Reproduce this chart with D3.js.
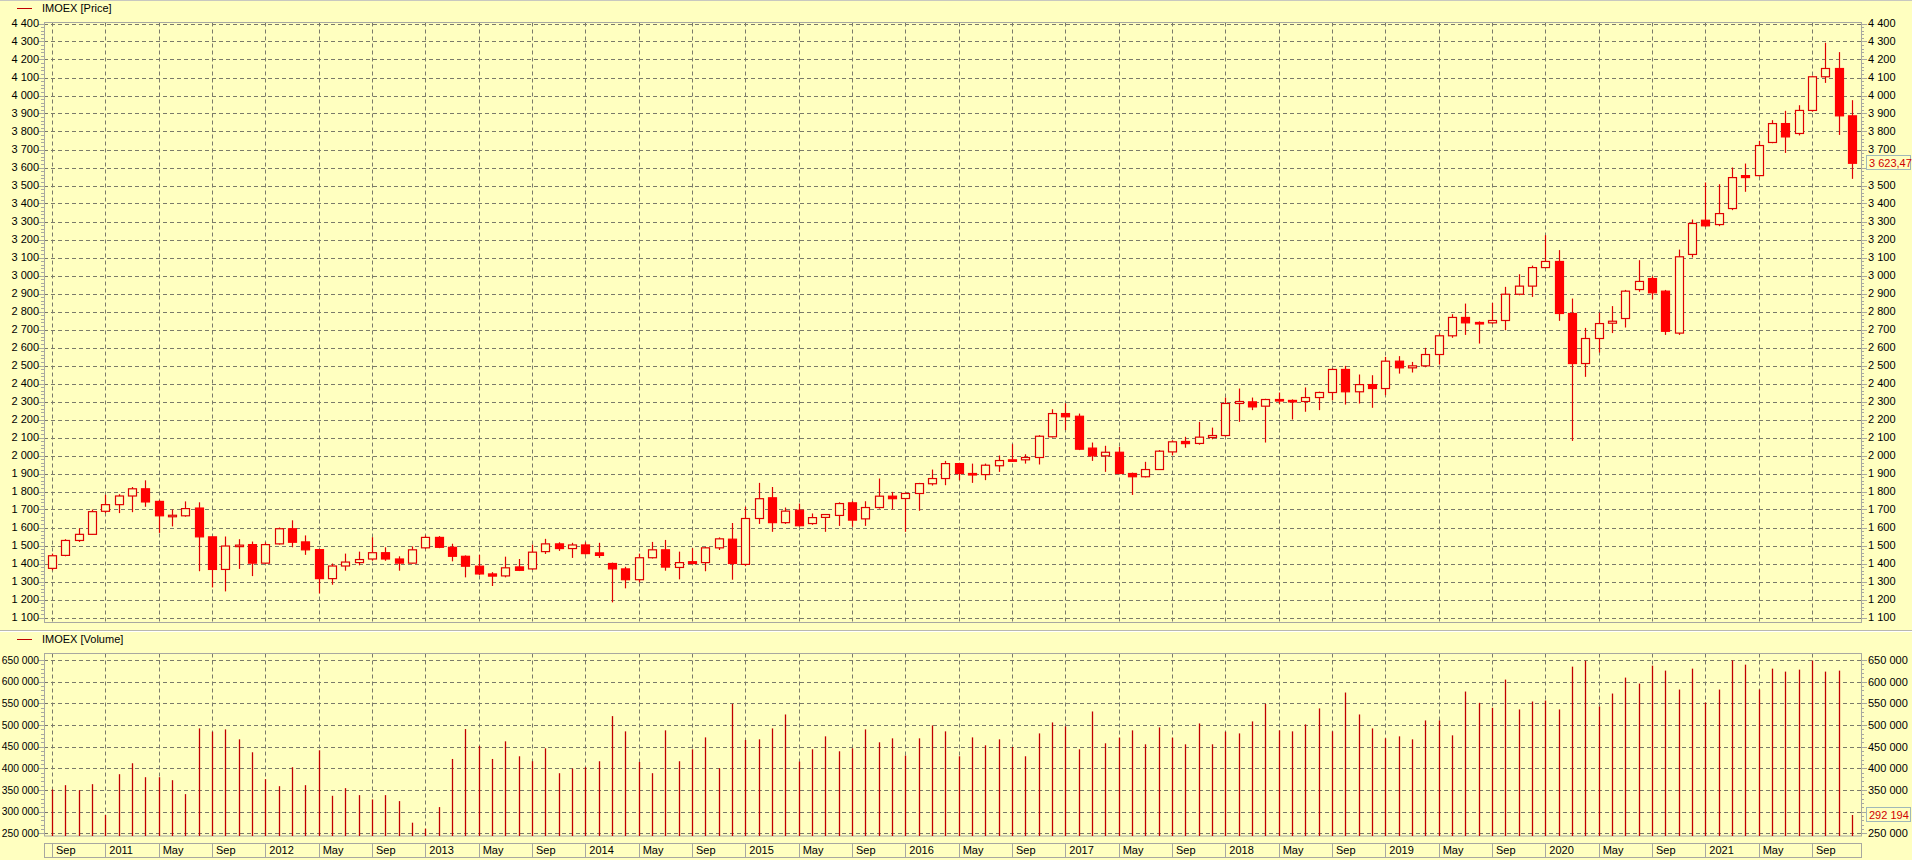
<!DOCTYPE html>
<html><head><meta charset="utf-8">
<script src="https://cdn.jsdelivr.net/npm/d3@7/dist/d3.min.js"></script>
<style>
html,body{margin:0;padding:0;background:#FFFFC0;overflow:hidden}
svg{display:block}
text{font-family:"Liberation Sans",Arial,sans-serif;font-size:11px;fill:#000}
</style></head><body>
<svg id="c" width="1912" height="860"></svg>
<script>
const months = ["2010-09","2010-10","2010-11","2010-12",
"2011-01","2011-02","2011-03","2011-04","2011-05","2011-06","2011-07","2011-08","2011-09","2011-10","2011-11","2011-12",
"2012-01","2012-02","2012-03","2012-04","2012-05","2012-06","2012-07","2012-08","2012-09","2012-10","2012-11","2012-12",
"2013-01","2013-02","2013-03","2013-04","2013-05","2013-06","2013-07","2013-08","2013-09","2013-10","2013-11","2013-12",
"2014-01","2014-02","2014-03","2014-04","2014-05","2014-06","2014-07","2014-08","2014-09","2014-10","2014-11","2014-12",
"2015-01","2015-02","2015-03","2015-04","2015-05","2015-06","2015-07","2015-08","2015-09","2015-10","2015-11","2015-12",
"2016-01","2016-02","2016-03","2016-04","2016-05","2016-06","2016-07","2016-08","2016-09","2016-10","2016-11","2016-12",
"2017-01","2017-02","2017-03","2017-04","2017-05","2017-06","2017-07","2017-08","2017-09","2017-10","2017-11","2017-12",
"2018-01","2018-02","2018-03","2018-04","2018-05","2018-06","2018-07","2018-08","2018-09","2018-10","2018-11","2018-12",
"2019-01","2019-02","2019-03","2019-04","2019-05","2019-06","2019-07","2019-08","2019-09","2019-10","2019-11","2019-12",
"2020-01","2020-02","2020-03","2020-04","2020-05","2020-06","2020-07","2020-08","2020-09","2020-10","2020-11","2020-12",
"2021-01","2021-02","2021-03","2021-04","2021-05","2021-06","2021-07","2021-08","2021-09","2021-10","2021-11","2021-12"];

const openP = [1373,1445,1528,1562,
1690,1727,1775,1815,1745,1665,1665,1708,1548,1367,1498,1505,
1402,1509,1593,1520,1477,1316,1386,1405,1425,1460,1425,1402,
1487,1545,1490,1440,1385,1342,1331,1381,1370,1466,1509,1483,
1503,1459,1400,1370,1310,1432,1476,1378,1410,1405,1487,1535,
1395,1650,1765,1627,1696,1622,1656,1667,1737,1648,1711,1774,
1761,1789,1843,1872,1955,1900,1894,1943,1976,1976,1989,2104,
2233,2218,2041,1998,2018,1900,1882,1922,2020,2078,2067,2100,
2111,2289,2298,2274,2311,2306,2300,2322,2350,2478,2354,2394,
2372,2524,2487,2498,2561,2665,2767,2739,2737,2750,2896,2941,
3044,3078,2789,2511,2650,2735,2761,2922,2983,2913,2680,3117,
3307,3283,3372,3555,3555,3739,3844,3789,3917,4104,4150,3887];

const highP = [1455,1535,1595,1700,
1782,1785,1825,1862,1752,1700,1745,1740,1550,1550,1535,1522,
1518,1600,1640,1556,1480,1400,1455,1466,1546,1490,1440,1495,
1556,1552,1510,1445,1448,1352,1438,1425,1505,1537,1518,1515,
1518,1515,1405,1382,1455,1520,1531,1466,1485,1492,1545,1625,
1715,1848,1825,1711,1733,1678,1675,1740,1746,1746,1872,1798,
1795,1848,1922,1970,1960,1955,1955,2000,2063,2007,2113,2257,
2290,2233,2072,2054,2048,1905,1965,2030,2085,2104,2187,2155,
2322,2372,2322,2315,2350,2312,2378,2355,2483,2498,2450,2446,
2548,2552,2520,2598,2678,2785,2844,2745,2848,2937,3007,3055,
3224,3141,2872,2709,2794,2830,2920,3085,2996,2920,3144,3311,
3517,3507,3600,3622,3748,3863,3915,3946,4110,4293,4241,3974];

const lowP = [1362,1440,1520,1560,
1680,1680,1685,1715,1570,1606,1660,1357,1267,1245,1370,1330,
1398,1505,1490,1448,1234,1282,1360,1390,1415,1415,1360,1400,
1480,1485,1412,1323,1335,1275,1323,1358,1365,1453,1470,1431,
1450,1431,1184,1262,1295,1428,1360,1312,1395,1357,1475,1310,
1385,1620,1576,1620,1605,1615,1576,1609,1604,1609,1705,1700,
1576,1693,1833,1835,1863,1848,1863,1909,1965,1955,1950,2100,
2141,2030,1970,1909,1900,1781,1878,1920,2000,2043,2060,2090,
2105,2187,2252,2072,2285,2200,2243,2252,2307,2283,2289,2265,
2335,2455,2461,2490,2505,2654,2670,2622,2730,2696,2890,2881,
3040,2748,2081,2437,2572,2680,2711,2910,2867,2670,2670,3100,
3270,3274,3363,3465,3550,3735,3681,3778,3910,4070,3781,3537];

const closeP = [1443,1528,1562,1688,
1727,1775,1815,1742,1665,1668,1705,1548,1367,1497,1502,1402,
1505,1593,1518,1476,1316,1386,1408,1422,1460,1425,1402,1476,
1545,1490,1440,1385,1342,1330,1376,1362,1463,1509,1483,1503,
1455,1445,1370,1310,1432,1476,1380,1405,1400,1487,1537,1400,
1650,1760,1627,1691,1610,1655,1672,1733,1641,1711,1774,1760,
1789,1844,1872,1955,1900,1895,1946,1972,1972,1989,2107,2233,
2215,2035,1998,2018,1900,1882,1922,2024,2076,2066,2102,2111,
2289,2300,2270,2311,2304,2300,2322,2350,2478,2354,2394,2372,
2524,2487,2498,2561,2665,2767,2737,2737,2750,2896,2941,3044,
3078,2789,2511,2650,2733,2746,2913,2967,2904,2690,3104,3289,
3276,3344,3544,3544,3722,3844,3770,3917,4104,4150,3887,3623.47];

const volume = [351100,361100,349600,363400,
292200,386400,411700,379500,379500,372600,340400,492100,484500,489800,466900,437000,
375000,358800,402500,361100,441600,336600,354200,338100,328200,338100,324300,274500,
260700,310500,421600,490600,451500,421600,462300,427800,416300,446200,388700,399400,
402500,416300,520500,485300,414700,388700,487600,416300,443900,471400,400200,548800,
465300,466900,492100,524300,415500,443900,473800,439300,446200,489800,460000,469200,
429400,469200,499000,485300,427800,471400,453100,466900,449200,427800,480600,505900,
496700,443900,531200,457700,470700,487600,455400,494400,470700,455400,503600,455400,
484500,480600,508300,548800,487600,485300,501400,538200,485300,574900,524300,492100,
469200,473800,466900,510500,510500,476100,577200,551200,539700,604800,535900,554200,
556500,535900,634700,648500,542700,572600,609400,595600,637000,625500,581800,630100,
551900,581800,649200,639300,581800,630100,623200,627800,648500,623200,625500,292194];

const priceTicks = [1100,1200,1300,1400,1500,1600,1700,1800,1900,2000,2100,2200,2300,2400,2500,2600,2700,2800,2900,3000,3100,3200,3300,3400,3500,3600,3700,3800,3900,4000,4100,4200,4300,4400];
const volumeTicks = [250000,300000,350000,400000,450000,500000,550000,600000,650000];
const monthAbbr = {"01":"Jan","05":"May","09":"Sep"};
const priceTitle = "IMOEX [Price]";
const volumeTitle = "IMOEX [Volume]";

const bg = "#FFFFC0", grid = "#7a7a6a", frame = "#a8a8a0";
const svg = d3.select("#c");
svg.append("rect").attr("width",1912).attr("height",860).attr("fill",bg);

const L = 44, R = 1861;
const pTop = 22.5, pBot = 622.5;
const vTop = 653.5, vBot = 836;

const x = d3.scalePoint().domain(months).range([52, 1852]);
const yP = d3.scaleLinear().domain([1100, 4400]).range([617.5, 23.5]);
const yV = d3.scaleLinear().domain([250000, 650000]).range([833.3, 660]);
const fmt = d3.formatLocale({decimal:",", thousands:" ", grouping:[3], currency:["",""]});
const fInt = fmt.format(",d");
const fDec = fmt.format(",.2f");

const gridMonths = months.filter((m,i)=> i % 4 === 0);
const data = months.map((m,i)=>({m, o:openP[i], h:highP[i], l:lowP[i], c:closeP[i], v:volume[i]}));
const last = data[data.length-1];

svg.append("line").attr("x1",0).attr("x2",1912).attr("y1",0.5).attr("y2",0.5).attr("stroke","#c8c8c0");

function legend(y, label){
  svg.append("line").attr("x1",17).attr("x2",32).attr("y1",y).attr("y2",y).attr("stroke","#c00000").attr("stroke-width",1);
  svg.append("text").attr("x",42).attr("y",y).attr("dy","0.35em").text(label);
}
legend(8.5, priceTitle);
legend(639.5, volumeTitle);

function panel(top, bot, yScale, ticks, tickFmt, sub, lastY, leftSize){
  const g = svg.append("g");
  const py = d=>Math.round(yScale(d))+0.5;
  g.selectAll("line.h").data(ticks).join("line")
    .attr("x1",L).attr("x2",R).attr("y1",py).attr("y2",py)
    .attr("stroke",grid).attr("stroke-dasharray","4,3");
  g.selectAll("line.v").data(gridMonths).join("line")
    .attr("x1",d=>Math.round(x(d))+0.5).attr("x2",d=>Math.round(x(d))+0.5).attr("y1",top).attr("y2",bot)
    .attr("stroke",grid).attr("stroke-dasharray","4,3");
  g.append("rect").attr("x",L+0.5).attr("y",top).attr("width",R-L).attr("height",bot-top)
    .attr("fill","none").attr("stroke",frame);
  const step = ticks[1]-ticks[0];
  const minor = [];
  for (let k=0;k<ticks.length-1;k++) for (let s=1;s<sub;s++) minor.push(ticks[k]+step*s/sub);
  g.selectAll("line.ml").data(minor).join("line")
    .attr("x1",L-3).attr("x2",L).attr("y1",py).attr("y2",py).attr("stroke",frame);
  g.selectAll("line.mr").data(minor).join("line")
    .attr("x1",R).attr("x2",R+3).attr("y1",py).attr("y2",py).attr("stroke",frame);
  g.selectAll("line.tl").data(ticks).join("line")
    .attr("x1",L-6).attr("x2",L).attr("y1",py).attr("y2",py).attr("stroke",frame);
  g.selectAll("line.tr").data(ticks).join("line")
    .attr("x1",R).attr("x2",R+6).attr("y1",py).attr("y2",py).attr("stroke",frame);
  g.selectAll("text.l").data(ticks).join("text")
    .attr("x",L-5).attr("y",d=>yScale(d)).attr("dy","0.35em").attr("text-anchor","end")
    .style("font-size",leftSize+"px").text(tickFmt);
  g.selectAll("text.r").data(ticks.filter(t=>Math.abs(yScale(t)-lastY)>12)).join("text")
    .attr("x",R+7).attr("y",d=>yScale(d)).attr("dy","0.35em").text(tickFmt);
}
panel(pTop, pBot, yP, priceTicks, fInt, 5, yP(last.c), 11);

svg.append("line").attr("x1",0).attr("x2",1912).attr("y1",630.5).attr("y2",630.5).attr("stroke","#b8b8b0");
svg.append("line").attr("x1",0).attr("x2",1912).attr("y1",631.5).attr("y2",631.5).attr("stroke","#ffffff");

panel(vTop, vBot, yV, volumeTicks, fInt, 5, yV(last.v), 10.3);

// candles
const cg = svg.append("g");
const red = "#ff0000";
cg.selectAll("line.wick").data(data).join("line")
  .attr("x1",d=>Math.round(x(d.m))+0.5).attr("x2",d=>Math.round(x(d.m))+0.5)
  .attr("y1",d=>yP(d.h)).attr("y2",d=>yP(d.l)).attr("stroke","#e00000").attr("stroke-width",1.2);
cg.selectAll("rect.body").data(data).join("rect")
  .attr("x",d=>Math.round(x(d.m))-4+0.5)
  .attr("width",8)
  .attr("y",d=>yP(Math.max(d.o,d.c)))
  .attr("height",d=>Math.max(1.5, Math.abs(yP(d.o)-yP(d.c))))
  .attr("fill",d=> d.c >= d.o ? bg : red)
  .attr("stroke",d=> d.c >= d.o ? "#e00000" : red)
  .attr("stroke-width",1.2);

// volume bars
svg.append("g").selectAll("line").data(data).join("line")
  .attr("x1",d=>Math.round(x(d.m))+0.5).attr("x2",d=>Math.round(x(d.m))+0.5)
  .attr("y1",vBot).attr("y2",d=>yV(d.v)).attr("stroke","#c00000").attr("stroke-width",1.3);

// x axis label row
const ax = svg.append("g");
ax.append("rect").attr("x",L+0.5).attr("y",843.5).attr("width",R-L).attr("height",14).attr("fill","none").attr("stroke",frame);
ax.selectAll("line").data(gridMonths).join("line")
  .attr("x1",d=>Math.round(x(d))+0.5).attr("x2",d=>Math.round(x(d))+0.5).attr("y1",843.5).attr("y2",857.5).attr("stroke",frame);
ax.selectAll("text").data(gridMonths).join("text")
  .attr("x",d=>x(d)+4).attr("y",850.5).attr("dy","0.35em")
  .text(d=>{const [yr,mo]=d.split("-"); return mo==="01"? yr : monthAbbr[mo];});

// last value labels
function lastLabel(yv, label){
  const g = svg.append("g");
  g.append("rect").attr("x",1866.5).attr("y",Math.round(yv)-7.5).attr("width",44).attr("height",14)
    .attr("fill",bg).attr("stroke","#a0b8b8");
  g.append("text").attr("x",1869).attr("y",yv).attr("dy","0.35em").style("fill","#d00000").text(label);
}
lastLabel(yP(last.c), fDec(last.c));
lastLabel(yV(last.v), fInt(last.v));
</script>
</body></html>
